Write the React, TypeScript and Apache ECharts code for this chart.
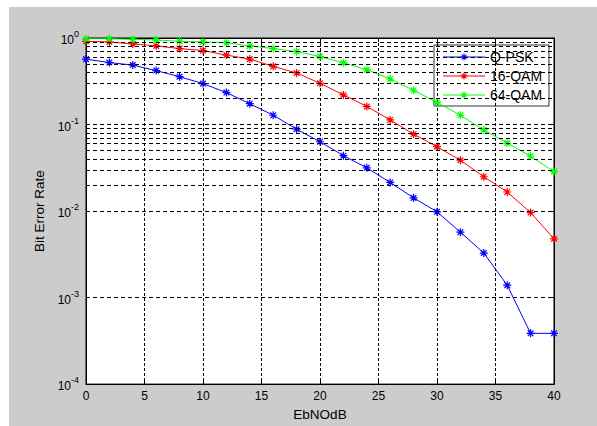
import React, { useEffect, useRef } from "react";
import * as echarts from "echarts";

const xValues = [0, 2, 4, 6, 8, 10, 12, 14, 16, 18, 20, 22, 24, 26, 28, 30, 32, 34, 36, 38, 40];
const qpsk = [0.57, 0.52, 0.486, 0.42, 0.357, 0.297, 0.234, 0.174, 0.128, 0.0883, 0.0632, 0.0437, 0.0316, 0.0214, 0.0142, 0.0098, 0.0057, 0.00327, 0.00139, 0.000386, 0.000386];
const qam16 = [0.916, 0.9, 0.853, 0.81, 0.755, 0.716, 0.634, 0.57, 0.47, 0.394, 0.3, 0.22, 0.162, 0.113, 0.0774, 0.0554, 0.0387, 0.0249, 0.0166, 0.0096, 0.00477];
const qam64 = [0.98, 0.98, 0.966, 0.949, 0.916, 0.9, 0.884, 0.81, 0.755, 0.697, 0.61, 0.517, 0.43, 0.336, 0.249, 0.18, 0.128, 0.0867, 0.061, 0.043, 0.0286];
const seriesNames = ["Q-PSK", "16-QAM", "64-QAM"];
const seriesColors = ["#0000ff", "#ff0000", "#00ff00"];
const decades = [1e-4, 1e-3, 1e-2, 1e-1];
const minorMultipliers = [2, 3, 4, 5, 6, 7, 8, 9];

const FONT = "Liberation Sans, Arial, Helvetica, sans-serif";
const STAR_D = "M0,-4L0,4M-4,0L4,0M-2.83,-2.83L2.83,2.83M-2.83,2.83L2.83,-2.83";
const STAR = "path://" + STAR_D;

let registered = false;

export default function App() {
  const ref = useRef<HTMLDivElement>(null);
  useEffect(() => {
    if (!ref.current) return;
    if (!registered) {
      echarts.graphic.registerShape("starmark", echarts.graphic.extendPath(STAR_D, {}));
      registered = true;
    }
    const chart = echarts.init(ref.current, null, { renderer: "svg" });
    const minorVals: number[] = [];
    decades.forEach((d) => minorMultipliers.forEach((m) => minorVals.push(d * m)));
    const allData = [qpsk, qam16, qam64];
    const mainSeries = allData.map((arr, i) => ({
      name: seriesNames[i],
      type: "line",
      data: xValues.map((x, j) => [x, arr[j]]),
      symbol: STAR,
      symbolSize: 8,
      showSymbol: true,
      z: 3,
      lineStyle: { color: seriesColors[i], width: 1 },
      itemStyle: { color: seriesColors[i], borderColor: seriesColors[i], borderWidth: 1.2 },
    }));

    // legend drawn as graphic elements
    const lgX = 425;
    const lgY = 38;
    const rowY = [12, 31, 50];
    const legendChildren: any[] = [
      {
        type: "rect",
        shape: { x: lgX, y: lgY, width: 115, height: 61 },
        style: { fill: "#ffffff", stroke: "#333333", lineWidth: 1 },
      },
    ];
    seriesNames.forEach((n, i) => {
      const cy = lgY + rowY[i];
      legendChildren.push({
        type: "line",
        shape: { x1: lgX + 9, y1: cy, x2: lgX + 51, y2: cy },
        style: { stroke: seriesColors[i], lineWidth: 1 },
      });
      legendChildren.push({
        type: "starmark",
        x: lgX + 30,
        y: cy,
        scaleX: 0.85,
        scaleY: 0.85,
        style: { stroke: seriesColors[i], fill: "none", lineWidth: 1.2 },
      });
      legendChildren.push({
        type: "text",
        x: lgX + 56,
        y: cy,
        style: {
          text: n,
          fill: "#000",
          font: `14px ${FONT}`,
          verticalAlign: "middle",
          align: "left",
        },
      });
    });

    chart.setOption({
      animation: false,
      backgroundColor: "#cccccc",
      textStyle: { fontFamily: FONT },
      grid: {
        left: 77,
        right: 43,
        top: 31,
        bottom: 39,
        show: true,
        backgroundColor: "#ffffff",
        borderColor: "#000000",
        borderWidth: 1,
      },
      graphic: [{ type: "group", z: 100, children: legendChildren }],
      xAxis: [
        {
          type: "value",
          min: 0,
          max: 40,
          interval: 5,
          name: "EbNOdB",
          nameLocation: "middle",
          nameGap: 22,
          nameTextStyle: { fontSize: 13.5, color: "#000", fontFamily: FONT },
          axisLine: { show: true, onZero: false, lineStyle: { color: "#000", width: 1 } },
          axisTick: { show: true, inside: true, length: 4, lineStyle: { color: "#000" } },
          axisLabel: { fontSize: 12, color: "#000", margin: 6, fontFamily: FONT },
          splitLine: { show: true, lineStyle: { color: "#000", type: [3, 2], width: 1 } },
        },
        {
          type: "value",
          position: "top",
          min: 0,
          max: 40,
          interval: 5,
          axisLine: { show: true, onZero: false, lineStyle: { color: "#000", width: 1 } },
          axisTick: { show: true, inside: true, length: 4, lineStyle: { color: "#000" } },
          axisLabel: { show: false },
          splitLine: { show: false },
        },
      ],
      yAxis: [
        {
          type: "log",
          logBase: 10,
          min: 1e-4,
          max: 1,
          name: "Bit Error Rate",
          nameLocation: "middle",
          nameGap: 35,
          nameTextStyle: { fontSize: 13.5, color: "#000", fontFamily: FONT },
          axisLine: { show: true, onZero: false, lineStyle: { color: "#000", width: 1 } },
          axisTick: { show: true, inside: true, length: 4, lineStyle: { color: "#000" } },
          axisLabel: {
            margin: 7,
            color: "#000",
            formatter: (v: number) => `{b|10}{e|${Math.round(Math.log10(v))}}`,
            rich: {
              b: { fontSize: 12, color: "#000", fontFamily: FONT, padding: [4, 0, 0, 0] },
              e: { fontSize: 9, color: "#000", fontFamily: FONT, padding: [0, 0, 8, 0] },
            },
          },
          splitLine: { show: true, lineStyle: { color: "#000", type: [4, 3], width: 1 } },
        },
        {
          type: "log",
          logBase: 10,
          min: 1e-4,
          max: 1,
          position: "right",
          axisLine: { show: true, onZero: false, lineStyle: { color: "#000", width: 1 } },
          axisTick: { show: true, inside: true, length: 4, lineStyle: { color: "#000" } },
          axisLabel: { show: false },
          splitLine: { show: false },
        },
      ],
      series: [
        {
          name: "minor-grid",
          type: "line",
          data: [],
          z: 1,
          silent: true,
          markLine: {
            silent: true,
            symbol: "none",
            animation: false,
            label: { show: false },
            lineStyle: { color: "#000", type: [4, 3], width: 1 },
            emphasis: { disabled: true },
            data: minorVals.map((v) => ({ yAxis: v })),
          },
        },
        ...mainSeries,
      ],
    });
    return () => chart.dispose();
  }, []);
  return (
    <div
      ref={ref}
      style={{ position: "fixed", left: 9, top: 7, width: 588, height: 419 }}
    />
  );
}
